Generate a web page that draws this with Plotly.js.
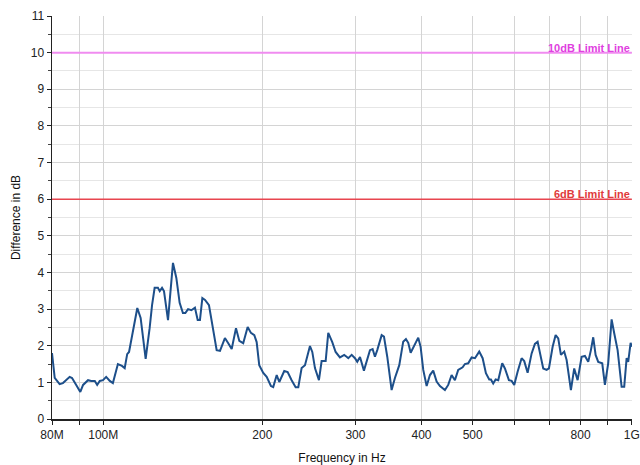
<!DOCTYPE html>
<html>
<head>
<meta charset="utf-8">
<script src="https://cdn.plot.ly/plotly-3.0.1.min.js"></script>
<style>html,body{margin:0;padding:0;background:#fff;}#chart{width:640px;height:465px;}</style>
</head>
<body>
<div id="chart"></div>
<script>
// Frequency in MHz
const freqMHz = [80,80.3,80.95,82.7,83.9,86.4,87.3,88.9,90.5,91.6,92.5,93.6,94.9,96.4,97.4,98.5,99.9,101.3,102.9,104.3,106.6,108.5,109.8,111.0,111.9,113.8,116.0,117.7,120.3,122.4,123.7,125.1,126.9,127.9,129.2,130.3,132.6,135.5,137.5,139.5,141.5,143.0,144.7,146.8,149.1,150.9,152.4,154.0,155.8,158.5,161.5,163.9,166.3,169.9,172.4,175.0,178.3,180.9,184.0,187.6,190.3,193.1,195.1,197.3,200.8,203.8,207.6,209.7,212.9,215.3,220.0,223.3,227.2,231.2,233.9,237.3,240.8,246.1,248.6,251.5,255.9,258.9,263.5,266.5,271.2,275.2,280.4,285.7,288.7,290.8,295.1,299.4,302.4,306.0,311.3,315.0,319.6,323.3,326.6,329.9,336.3,339.7,344.6,351.2,356.3,363.1,369.4,373.8,377.6,381.6,387.1,394.4,398.5,403.1,409.1,415.0,421.0,427.3,433.5,443.0,449.4,456.1,462.7,469.4,478.5,483.3,490.3,497.7,504.9,514.4,522.1,529.6,537.3,541.3,546.7,552.5,558.8,568.6,575.3,585.4,592.4,599.1,608.0,618.7,625.8,635.1,646.3,655.6,663.4,670.1,679.8,689.9,696.9,708.2,717.5,725.7,734.2,744.9,752.7,766.9,778.0,789.6,803.5,815.2,827.0,836.7,845.2,854.0,863.8,879.0,889.3,902.2,915.7,926.1,939.9,956.4,967.3,977.5,984.3,994.7,1000];
// Difference in dB
const diffDB = [1.80,1.55,1.12,0.95,0.98,1.15,1.12,0.93,0.74,0.93,0.98,1.06,1.04,1.04,0.93,1.04,1.06,1.15,1.04,0.98,1.50,1.45,1.39,1.77,1.83,2.37,3.03,2.76,1.64,2.48,3.11,3.58,3.58,3.49,3.58,3.49,2.70,4.26,3.85,3.17,2.89,2.89,3.00,2.97,3.04,2.70,2.70,3.30,3.25,3.11,2.37,1.88,1.86,2.21,2.07,1.91,2.48,2.13,2.07,2.51,2.35,2.29,2.10,1.47,1.26,1.15,0.90,0.87,1.20,1.01,1.31,1.28,1.06,0.87,0.87,1.39,1.47,1.99,1.83,1.39,1.06,1.58,1.58,2.35,2.10,1.83,1.68,1.75,1.70,1.66,1.75,1.66,1.56,1.69,1.32,1.56,1.88,1.91,1.70,1.88,2.29,2.25,1.70,0.79,1.12,1.47,2.11,2.18,2.08,1.81,1.99,2.22,1.97,1.34,0.90,1.20,1.32,1.02,0.90,0.79,0.93,1.20,1.06,1.34,1.41,1.50,1.52,1.68,1.66,1.84,1.66,1.25,1.08,1.08,0.97,1.08,1.06,1.52,1.38,1.06,1.04,0.93,1.29,1.66,1.58,1.26,1.79,2.05,2.11,1.79,1.38,1.34,1.38,1.97,2.29,2.20,1.75,1.84,1.61,0.79,1.38,1.06,1.70,1.72,1.56,1.88,2.23,1.75,1.56,1.52,0.93,1.52,2.72,2.34,1.88,0.88,0.88,1.66,1.56,2.08,1.97];

const limitRange = [80, 1000];
const limit10 = [10, 10];
const limit6 = [6, 6];
const limitNames = ['10dB Limit Line', '6dB Limit Line'];

const tickVals = [80,90,100,200,300,400,500,600,700,800,900,1000];
const tickText = ['80M','','100M','200','300','400','500','','','800','','1G'];

const traces = [
  {x: limitRange, y: limit10, mode:'lines', line:{color:'#f08cf0', width:2}, hoverinfo:'skip'},
  {x: limitRange, y: limit6, mode:'lines', line:{color:'#e8454f', width:1.5}, hoverinfo:'skip'},
  {x: freqMHz, y: diffDB, mode:'lines', line:{color:'#1d4f8a', width:2}, hoverinfo:'skip'}
];

const fontFam = 'Liberation Sans, Arial, sans-serif';
const layout = {
  width:640, height:465,
  margin:{l:52, r:8, t:16, b:46},
  paper_bgcolor:'#fff', plot_bgcolor:'#fff',
  showlegend:false,
  font:{family:fontFam, size:12, color:'#222'},
  xaxis:{
    type:'log', range:[Math.log10(80), 3.0003],
    tickmode:'array', tickvals:tickVals, ticktext:tickText,
    showgrid:true, gridcolor:'#d4d4d4', gridwidth:1,
    showline:true, linecolor:'#222', linewidth:1.5,
    ticks:'outside', ticklen:4, tickcolor:'#222',
    zeroline:false,
    tickfont:{size:12, color:'#222'},
    title:{text:'Frequency in Hz', font:{size:12, color:'#111'}, standoff:12}
  },
  yaxis:{
    range:[0, 11], dtick:1, tick0:0,
    showgrid:true, gridcolor:'#d4d4d4', gridwidth:1,
    showline:true, linecolor:'#222', linewidth:1.5,
    ticks:'outside', ticklen:4, tickcolor:'#222',
    zeroline:false,
    tickfont:{size:12, color:'#222'},
    minor:{dtick:0.5, showgrid:true, gridcolor:'#e6e6e6', ticks:'outside', ticklen:3, tickcolor:'#444'},
    title:{text:'Difference in dB', font:{size:12, color:'#111'}, standoff:7}
  },
  annotations:[
    {xref:'paper', x:1, yref:'y', y:limit10[0], xanchor:'right', yanchor:'bottom', yshift:-3, showarrow:false,
     text:'<b>'+limitNames[0]+'</b>', font:{size:11, color:'#e040e0', family:fontFam}},
    {xref:'paper', x:1, yref:'y', y:limit6[0], xanchor:'right', yanchor:'bottom', yshift:-3, showarrow:false,
     text:'<b>'+limitNames[1]+'</b>', font:{size:11, color:'#e03a3a', family:fontFam}}
  ]
};

Plotly.newPlot('chart', traces, layout, {displayModeBar:false, staticPlot:true});
</script>
</body>
</html>
